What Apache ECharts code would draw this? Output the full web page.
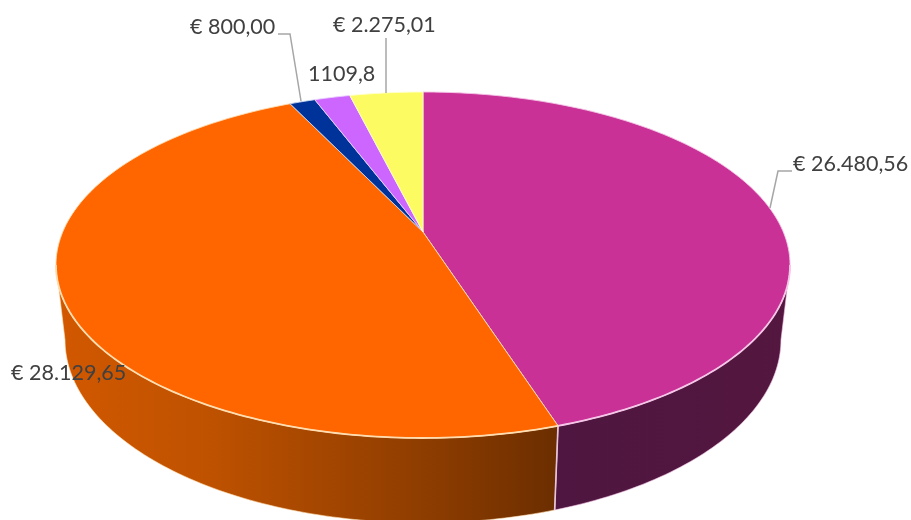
<!DOCTYPE html>
<html><head><meta charset="utf-8">
<style>html,body{margin:0;padding:0;background:#fff}#c{width:911px;height:520px}</style>
<script src="https://cdn.jsdelivr.net/npm/echarts@6/dist/echarts.min.js"></script>
</head><body><div id="c"></div>
<script>
const categories = ['A','B','C','D','E'];
const values = [26480.56, 28129.65, 800.00, 1109.8, 2275.01];
const valueLabels = ['€ 26.480,56','€ 28.129,65','€ 800,00','1109,8','€ 2.275,01'];
const topColors = ['#C93196','#FF6600','#003399','#CC66FF','#FCFC62'];
const rimColors = ['#F5C6E8','#FFDDB0','#C9D6F0','#EBD0FF','#FFFFD0'];

// Projection of the disc: a perspective view, top and bottom face
const K = 0.1907;
const topFace = {cx:423, y0:232, a:360.3, b:166.7};
const botFace = {cx:423, y0:305, a:351.4, b:176.3};
// Angles where the disc outline is widest: only this front range shows a wall
const frontFrom = 101, frontTo = 259;
function proj(f, deg){
  const t = deg*Math.PI/180, u = Math.sin(t), v = -Math.cos(t), d = 1-K*v;
  return [f.cx + f.a*u/d, f.y0 + f.b*v/d];
}
function arc(f, a0, a1){
  const n = Math.max(2, Math.ceil(Math.abs(a1-a0))), p = [];
  for(let i=0;i<=n;i++) p.push(proj(f, a0+(a1-a0)*i/n));
  return p;
}
const total = values.reduce((s,v)=>s+v,0);
const labelLayout = [
  {x:793,y:164, line:[[792,171],[778,171],[770,208]]},
  {x:11, y:373, line:null},
  {x:190,y:27,  line:[[278,34],[290,34],[301,101]]},
  {x:308,y:74,  line:null},
  {x:333,y:25,  line:[[386,38],[386,93]]}
];
const wallFill = [
  new echarts.graphic.LinearGradient(557,0,790,0,[{offset:0,color:'#4E1640'},{offset:1,color:'#54173F'}],true),
  new echarts.graphic.LinearGradient(56,0,557,0,[
    {offset:0,color:'#D25800'},{offset:0.3,color:'#BF5200'},{offset:0.5,color:'#A84800'},
    {offset:0.75,color:'#8C3C00'},{offset:1,color:'#6C2E00'}],true),
  '#00205F','#7D3F9D','#9D9D3F'
];
const chart = echarts.init(document.getElementById('c'), null, {renderer:'canvas'});
chart.setOption({
  animation:false,
  series:[{
    type:'custom', coordinateSystem:'none', silent:true,
    data: values.map((v,i)=>({name:categories[i], value:[v]})),
    renderItem(params, api){
      const i = params.dataIndex;
      let before = 0; for(let j=0;j<i;j++) before += values[j];
      const a0 = before/total*360, a1 = (before+api.value(0))/total*360;
      const apex = [topFace.cx, topFace.y0];
      const children = [];
      const f0 = Math.max(a0,frontFrom), f1 = Math.min(a1,frontTo);
      if(f1 > f0){
        const topFront = arc(topFace,f0,f1), botFront = arc(botFace,f0,f1);
        children.push({type:'polygon', z2:1,
          shape:{points: topFront.concat(botFront.slice().reverse())},
          style:{fill:wallFill[i], stroke:rimColors[i], lineWidth:0.6, opacity:1}});
        children.push({type:'polyline', z2:12, shape:{points:topFront},
          style:{fill:null, stroke:rimColors[i], lineWidth:1.8}});
        if(a1 < frontTo){
          children.push({type:'line', z2:3,
            shape:{x1:proj(topFace,a1)[0],y1:proj(topFace,a1)[1],x2:proj(botFace,a1)[0],y2:proj(botFace,a1)[1]},
            style:{stroke:'#E8C4DC', lineWidth:1.6}});
        }
      }
      children.push({type:'polygon', z2:10,
        shape:{points:[apex].concat(arc(topFace,a0,a1))},
        style:{fill:topColors[i], stroke:rimColors[i], lineWidth:0.9, lineJoin:'round'}});
      const L = labelLayout[i];
      if(L.line) children.push({type:'polyline', z2:20, shape:{points:L.line},
        style:{fill:null, stroke:'#A6A6A6', lineWidth:1.5}});
      children.push({type:'text', z2:30, x:L.x, y:L.y,
        style:{text:valueLabels[i], fill:'#404040', font:'21.5px Lato, Carlito, sans-serif',
               align:'left', verticalAlign:'middle'}});
      return {type:'group', children};
    }
  }]
});
</script></body></html>
